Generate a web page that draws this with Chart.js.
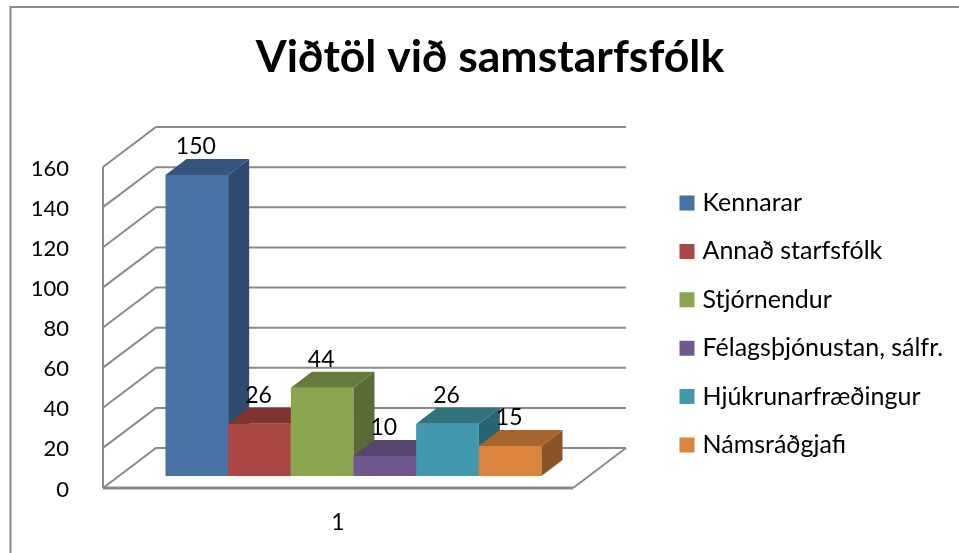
<!DOCTYPE html>
<html>
<head>
<meta charset="utf-8">
<script src="https://cdn.jsdelivr.net/npm/chart.js@4/dist/chart.umd.min.js"></script>
<style>
  html, body { margin: 0; padding: 0; background: #fff; }
  #wrap { width: 959px; height: 553px; }
</style>
</head>
<body>
<div id="wrap"><canvas id="chart" width="959" height="553"></canvas></div>
<script>
var titleText = 'Viðtöl við samstarfsfólk';
var categories = ['1'];
var seriesNames = ['Kennarar', 'Annað starfsfólk', 'Stjórnendur', 'Félagsþjónustan, sálfr.', 'Hjúkrunarfræðingur', 'Námsráðgjafi'];
var seriesValues = [150, 26, 44, 10, 26, 15];
var frontColors = ['#4672a6', '#aa4643', '#8aa64f', '#73588f', '#4198af', '#db843d'];
var topColors = ['#35557e', '#803432', '#677c3b', '#5a4570', '#31737f', '#a6642f'];
var sideColors = ['#2e4a6e', '#6e2d2b', '#5a6c34', '#4e3c62', '#2a6474', '#8b5428'];

var FONT = 'Lato';
var LINE = '#8a8a8a';
// the wall sits behind the front plane by this much, bars stand part way in
var wall = { dx: 53, dy: -40 };
var barShift = { dx: 15.5, dy: -12 };
var barDepth = { dx: 21, dy: -16 };

function line(ctx, pts, width) {
    ctx.beginPath();
    ctx.moveTo(pts[0][0], pts[0][1]);
    for (var i = 1; i < pts.length; i++) ctx.lineTo(pts[i][0], pts[i][1]);
    ctx.lineWidth = width;
    ctx.strokeStyle = LINE;
    ctx.stroke();
}

function poly(ctx, pts, color) {
    ctx.beginPath();
    ctx.moveTo(pts[0][0], pts[0][1]);
    for (var i = 1; i < pts.length; i++) ctx.lineTo(pts[i][0], pts[i][1]);
    ctx.closePath();
    ctx.fillStyle = color;
    ctx.fill();
}

var frame3d = {
    id: 'frame3d',
    afterLayout: function(chart) {
        // title and legend do not sit where the layout would put them
        var pad = chart.legend.options.labels.padding;
        chart.titleBlock.left = 0;
        chart.titleBlock.right = 980;
        chart.legend.left = 684 - pad;
        chart.legend.right = 959;
        chart.legend.top = 190.5 - pad;
        chart.legend.bottom = 553;
    },
    beforeDraw: function(chart) {
        var ctx = chart.ctx;
        ctx.save();
        line(ctx, [[10.5, 553], [10.5, 7], [959, 7]], 2);
        ctx.restore();
    },
    beforeDatasetsDraw: function(chart) {
        var ctx = chart.ctx, a = chart.chartArea, y = chart.scales.y;
        ctx.save();
        y.ticks.forEach(function(t) {
            var py = y.getPixelForValue(t.value);
            line(ctx, [[a.left, py], [a.left + wall.dx, py + wall.dy], [a.right + wall.dx, py + wall.dy]], 2);
        });
        line(ctx, [[a.right + wall.dx, a.bottom + wall.dy], [a.right, a.bottom]], 2);
        line(ctx, [[a.left, a.top], [a.left, a.bottom]], 2);
        line(ctx, [[a.left, a.bottom], [a.right, a.bottom]], 3);

        // left bar first so the next one covers its side, chart.js would go the other way
        ctx.translate(barShift.dx, barShift.dy);
        var dx = barDepth.dx, dy = barDepth.dy;
        chart.data.datasets.forEach(function(ds, i) {
            var meta = chart.getDatasetMeta(i);
            meta.controller.draw();
            meta.data.forEach(function(bar) {
                var l = bar.x - bar.width / 2, r = bar.x + bar.width / 2;
                var t = bar.y, b = bar.base;
                poly(ctx, [[r, t], [r + dx, t + dy], [r + dx, b + dy], [r, b]], sideColors[i]);
                poly(ctx, [[l, t], [l + dx, t + dy], [r + dx, t + dy], [r, t]], topColors[i]);
            });
        });

        ctx.font = '23px ' + FONT;
        ctx.fillStyle = '#000';
        ctx.textAlign = 'center';
        ctx.textBaseline = 'middle';
        chart.data.datasets.forEach(function(ds, i) {
            var bar = chart.getDatasetMeta(i).data[0];
            ctx.fillText(ds.data[0], bar.x - 1, bar.y - 28.5);
        });
        ctx.restore();
        return false;
    }
};

var datasets = [];
for (var i = 0; i < seriesNames.length; i++) {
    datasets.push({
        label: seriesNames[i],
        data: [seriesValues[i]],
        backgroundColor: frontColors[i],
        borderWidth: 0
    });
}

new Chart(document.getElementById('chart'), {
    type: 'bar',
    data: { labels: categories, datasets: datasets },
    plugins: [frame3d],
    options: {
        responsive: false,
        animation: false,
        layout: { padding: { left: 0, right: 386, top: 0, bottom: 0 } },
        datasets: { bar: { barPercentage: 1, categoryPercentage: 0.8 } },
        scales: {
            x: {
                grid: { display: false },
                border: { display: false },
                ticks: { color: '#000', padding: 13, font: { family: FONT, size: 23 } },
                afterFit: function(s) { s.height = 65; }
            },
            y: {
                min: 0,
                max: 160,
                grid: { display: false },
                border: { display: false },
                ticks: { stepSize: 20, color: '#000', padding: 26, labelOffset: 1.5, font: { family: FONT, size: 22 } },
                afterFit: function(s) { s.width = 103; }
            }
        },
        plugins: {
            tooltip: { enabled: false },
            title: {
                display: true,
                text: titleText,
                color: '#000',
                font: { family: FONT, size: 44.5, weight: 'bold' },
                padding: { top: 31, bottom: 82.6 }
            },
            legend: {
                position: 'chartArea',
                align: 'start',
                labels: {
                    color: '#000',
                    font: { family: FONT, size: 25 },
                    padding: 23.4,
                    boxWidth: 6,
                    boxHeight: 6,
                    generateLabels: function(chart) {
                        // thick stroke gets a 15px swatch with the text close up to it
                        return seriesNames.map(function(name, i) {
                            return { text: name, fillStyle: frontColors[i], strokeStyle: frontColors[i], lineWidth: 9, datasetIndex: i };
                        });
                    }
                }
            }
        }
    }
});
</script>
</body>
</html>
